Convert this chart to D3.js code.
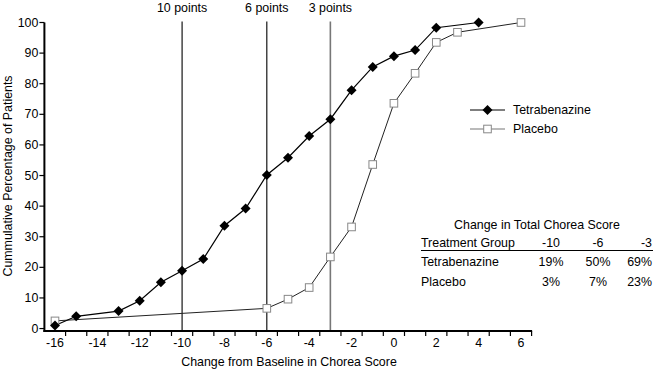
<!DOCTYPE html>
<html><head><meta charset="utf-8">
<script src="https://cdn.jsdelivr.net/npm/d3@7/dist/d3.min.js"></script>
<style>body{margin:0;background:#fff}svg{display:block;font-family:"Liberation Sans",Arial,sans-serif}</style>
</head><body><svg id="c" width="654" height="372"></svg>
<script>
const tetraX = [-16,-15,-13,-12,-11,-10,-9,-8,-7,-6,-5,-4,-3,-2,-1,0,1,2,4];
const tetraY = [1,4,5.7,9.1,15.1,18.9,22.7,33.6,39.2,50.2,55.8,62.9,68.4,77.9,85.5,89,91,98.3,100];
const placX = [-16,-6,-5,-4,-3,-2,-1,0,1,2,3,6];
const placY = [2.5,6.6,9.6,13.4,23.4,33.2,53.6,73.6,83.4,93.5,96.8,100];
const xLabels = [-16,-14,-12,-10,-8,-6,-4,-2,0,2,4,6];
const xTicks = [-15.5,-14.5,-13.5,-12.5,-11.5,-10.5,-9.5,-8.5,-7.5,-6.5,-5.5,-4.5,-3.5,-2.5,-1.5,-0.5,0.5,1.5,2.5,3.5,4.5,5.5,6.5];
const yTicks = [0,10,20,30,40,50,60,70,80,90,100];
const refLines = [{x:-10,label:"10 points"},{x:-6,label:"6 points"},{x:-3,label:"3 points"}];
const tableTitle = "Change in Total Chorea Score";
const tableHeader = ["Treatment Group","-10","-6","-3"];
const tableRows = [["Tetrabenazine","19%","50%","69%"],["Placebo","3%","7%","23%"]];

const FS = 12.4;
const svg = d3.select("#c");
const x = d3.scaleLinear().domain([-16.5,6.5]).range([44.4,531.6]);
const y = d3.scaleLinear().domain([-0.8,100]).range([331,22.5]);
const x0 = 44.4, yAxis = 331;

refLines.forEach((r,i)=>{
  svg.append("line").attr("x1",x(r.x)).attr("x2",x(r.x)).attr("y1",y(100)-1).attr("y2",yAxis)
    .attr("stroke", i===2 ? "#777" : "#000").attr("stroke-width", i===2?1.6:1.1);
  svg.append("text").attr("x",x(r.x)).attr("y",12).attr("text-anchor","middle")
    .attr("font-size",FS).text(r.label);
});

svg.append("line").attr("x1",x0).attr("x2",x0).attr("y1",y(100)).attr("y2",yAxis+1).attr("stroke","#000").attr("stroke-width",2);
yTicks.forEach(t=>{
  svg.append("line").attr("x1",x0-5).attr("x2",x0).attr("y1",y(t)).attr("y2",y(t)).attr("stroke","#000").attr("stroke-width",1.2);
  svg.append("text").attr("x",x0-6).attr("y",y(t)+4).attr("text-anchor","end").attr("font-size",FS).text(t);
});
svg.append("line").attr("x1",x0-1).attr("x2",x(6.5)+0.5).attr("y1",yAxis).attr("y2",yAxis).attr("stroke","#000").attr("stroke-width",2);
xTicks.forEach(t=>{
  svg.append("line").attr("x1",x(t)).attr("x2",x(t)).attr("y1",yAxis).attr("y2",yAxis+5).attr("stroke","#000").attr("stroke-width",1.2);
});
xLabels.forEach(t=>{
  svg.append("text").attr("x",x(t)).attr("y",yAxis+16).attr("text-anchor","middle").attr("font-size",FS).text(t);
});
svg.append("text").attr("x",289).attr("y",366).attr("text-anchor","middle").attr("font-size",FS).text("Change from Baseline in Chorea Score");
svg.append("text").attr("transform","translate(12,176) rotate(-90)").attr("text-anchor","middle").attr("font-size",FS).text("Cummulative Percentage of Patients");

const line = d3.line().x(d=>x(d[0])).y(d=>y(d[1]));
const tData = tetraX.map((v,i)=>[v,tetraY[i]]);
const pData = placX.map((v,i)=>[v,placY[i]]);
svg.append("path").attr("d",line(pData)).attr("fill","none").attr("stroke","#222").attr("stroke-width",1);
svg.append("path").attr("d",line(tData)).attr("fill","none").attr("stroke","#000").attr("stroke-width",1.2);

function dia(g,cx,cy){ g.append("path").attr("d","M0,-5L5,0L0,5L-5,0Z").attr("transform",`translate(${cx},${cy})`).attr("fill","#000"); }
function sq(g,cx,cy){ g.append("rect").attr("x",cx-3.8).attr("y",cy-3.8).attr("width",7.6).attr("height",7.6).attr("fill","#fff").attr("stroke","#888").attr("stroke-width",1); }
pData.forEach(d=>sq(svg,x(d[0]),y(d[1])));
tData.forEach(d=>dia(svg,x(d[0]),y(d[1])));

svg.append("line").attr("x1",470).attr("x2",505).attr("y1",110).attr("y2",110).attr("stroke","#000").attr("stroke-width",1.2);
dia(svg,487.5,110);
svg.append("text").attr("x",513).attr("y",114).attr("font-size",FS).text("Tetrabenazine");
svg.append("line").attr("x1",470).attr("x2",505).attr("y1",129).attr("y2",129).attr("stroke","#777").attr("stroke-width",1.2);
sq(svg,487.5,129);
svg.append("text").attr("x",513).attr("y",133).attr("font-size",FS).text("Placebo");

svg.append("text").attr("x",537).attr("y",229).attr("text-anchor","middle").attr("font-size",FS).text(tableTitle);
const colX = [421,551,598,652];
const anchors = ["start","middle","middle","end"];
tableHeader.forEach((h,i)=>{
  svg.append("text").attr("x",colX[i]).attr("y",247).attr("text-anchor",anchors[i]).attr("font-size",FS).text(h);
});
svg.append("line").attr("x1",421).attr("x2",653).attr("y1",250.5).attr("y2",250.5).attr("stroke","#000").attr("stroke-width",1);
tableRows.forEach((r,j)=>{
  r.forEach((c,i)=>{
    svg.append("text").attr("x",colX[i]).attr("y",266+j*19.5).attr("text-anchor",anchors[i]).attr("font-size",FS).text(c);
  });
});
</script></body></html>
